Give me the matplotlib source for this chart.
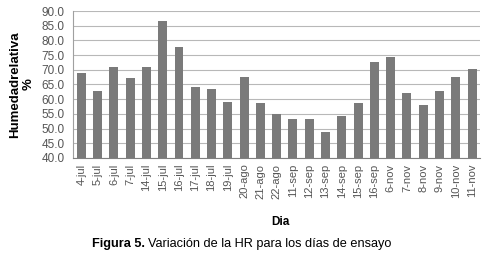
import matplotlib
matplotlib.use("Agg")
import matplotlib.pyplot as plt

dias = ["4-jul", "5-jul", "6-jul", "7-jul", "14-jul", "15-jul", "16-jul", "17-jul",
        "18-jul", "19-jul", "20-ago", "21-ago", "22-ago", "11-sep", "12-sep", "13-sep",
        "14-sep", "15-sep", "16-sep", "6-nov", "7-nov", "8-nov", "9-nov", "10-nov", "11-nov"]
hr = [68.8, 62.7, 70.8, 67.2, 71.1, 86.7, 77.6, 64.2, 63.4, 58.9, 67.6, 58.8, 55.0,
      53.1, 53.3, 48.9, 54.2, 58.8, 72.6, 74.2, 62.2, 58.1, 62.7, 67.6, 70.4]
yticks = [40, 45, 50, 55, 60, 65, 70, 75, 80, 85, 90]

plt.rcParams['font.family'] = ['Liberation Sans', 'DejaVu Sans']

fig = plt.figure(figsize=(4.88, 2.56), dpi=100)
ax = fig.add_axes([0.150, 0.383, 0.834, 0.574])
x = list(range(len(dias)))
ax.bar(x, hr, width=0.55, color="#7a7a7a", zorder=3)
ax.set_ylim(40, 90)
ax.set_xlim(-0.5, len(dias) - 0.5)
ax.set_yticks(yticks)
ax.set_yticklabels([f"{v:.1f}" for v in yticks], fontsize=8.5, color="#555555")
ax.set_xticks(x)
ax.set_xticklabels(dias, rotation=90, fontsize=8, color="#555555")
ax.tick_params(axis='y', length=0, pad=6)
ax.tick_params(axis='x', length=0, pad=4)
ax.grid(axis='y', color="#b8b8b8", linewidth=0.8, zorder=0)
for s in ['top', 'right']:
    ax.spines[s].set_visible(False)
ax.spines['left'].set_color("#a0a0a0")
ax.spines['bottom'].set_color("#808080")
ax.set_ylabel("Humedadrelativa\n%", fontsize=9.5, fontweight='bold', labelpad=5, linespacing=1.15)

fig.text(0.574, 0.133, "Dia", ha='center', va='center', fontsize=8.5, fontweight='bold')
t1 = fig.text(0.188, 0.047, "Figura 5.", ha='left', va='center', fontsize=9.2, fontweight='bold')
fig.canvas.draw()
bb = t1.get_window_extent()
x1 = bb.x1 / fig.bbox.width
fig.text(x1 + 0.006, 0.047, "Variación de la HR para los días de ensayo", ha='left', va='center', fontsize=9.2)

fig.savefig("out.png", dpi=100)
